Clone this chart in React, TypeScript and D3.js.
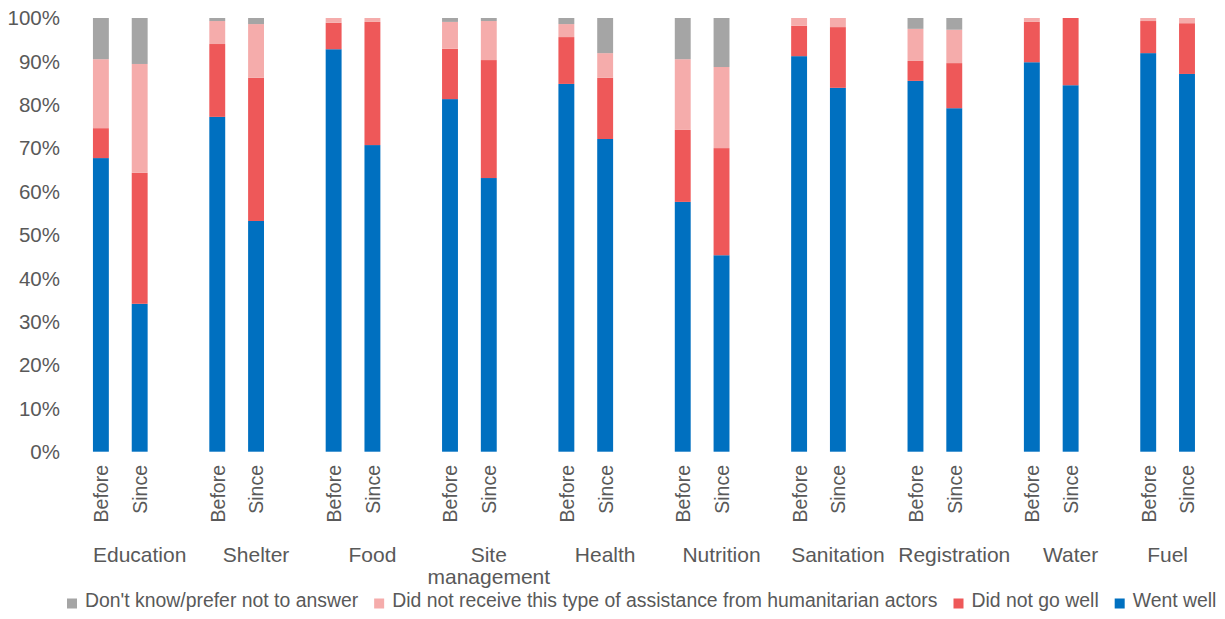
import React, { useEffect, useRef } from "react";
import * as d3 from "d3";

const categories = ["Education", "Shelter", "Food", "Site management", "Health", "Nutrition", "Sanitation", "Registration", "Water", "Fuel"];
const periods = ["Before", "Since"];
const seriesNames = ["Went well", "Did not go well", "Did not receive this type of assistance from humanitarian actors", "Don't know/prefer not to answer"];
const seriesColors = ["#0070C0", "#EE5859", "#F5ACAB", "#A5A5A5"];
const legendOrder = [3, 2, 1, 0];
const yTicks = [0, 10, 20, 30, 40, 50, 60, 70, 80, 90, 100];

// values per bar: [category][period] (Before, Since)
const wentWell = [[67.7, 34.1], [77.2, 53.2], [92.8, 70.7], [81.3, 63.1], [84.8, 72.1], [57.6, 45.3], [91.2, 83.9], [85.5, 79.2], [89.8, 84.5], [91.9, 87.1]];
const didNotGoWell = [[6.9, 30.2], [16.8, 33.0], [6.1, 28.4], [11.6, 27.2], [10.8, 14.1], [16.6, 24.7], [7.0, 14.0], [4.6, 10.4], [9.3, 15.5], [7.4, 11.7]];
const didNotReceive = [[15.9, 25.1], [5.3, 12.4], [1.1, 0.9], [6.2, 9.0], [3.0, 5.7], [16.3, 18.7], [1.8, 2.1], [7.4, 7.7], [0.9, 0], [0.7, 1.2]];
const dontKnow = [[9.5, 10.6], [0.7, 1.4], [0, 0], [0.9, 0.7], [1.4, 8.1], [9.5, 11.3], [0, 0], [2.5, 2.7], [0, 0], [0, 0]];

export default function App() {
  const ref = useRef<SVGSVGElement>(null);

  useEffect(() => {
    const svg = d3.select(ref.current);
    svg.selectAll("*").remove();
    const font = "'Liberation Sans', Arial, sans-serif";
    const textColor = "#595959";

    const slots: string[] = [];
    categories.forEach((c, i) => {
      periods.forEach((p) => slots.push(`${c}|${p}`));
      if (i < categories.length - 1) slots.push(`${c}|blank`);
    });

    const x = d3.scaleBand<string>().domain(slots).range([81.5, 1206.4]).paddingInner(0.59).paddingOuter(0.295);
    const y = d3.scaleLinear().domain([0, 100]).range([451.7, 18]);

    const rows = categories.flatMap((c, ci) =>
      periods.map((p, pi) => ({
        key: `${c}|${p}`,
        period: p,
        s0: wentWell[ci][pi],
        s1: didNotGoWell[ci][pi],
        s2: didNotReceive[ci][pi],
        s3: dontKnow[ci][pi],
      }))
    );
    const stack = d3.stack<any>().keys(["s0", "s1", "s2", "s3"]);
    const stacked = stack(rows);

    const g = svg.append("g");
    stacked.forEach((layer, li) => {
      g.selectAll(null)
        .data(layer)
        .enter()
        .append("rect")
        .attr("x", (d: any) => x(d.data.key)!)
        .attr("width", x.bandwidth())
        .attr("y", (d: any) => y(d[1]))
        .attr("height", (d: any) => Math.max(0, y(d[0]) - y(d[1])))
        .attr("fill", seriesColors[li]);
    });

    svg.append("g")
      .selectAll("text")
      .data(yTicks)
      .enter()
      .append("text")
      .attr("x", 60)
      .attr("y", (d) => y(d))
      .attr("dy", "0.36em")
      .attr("text-anchor", "end")
      .attr("font-family", font)
      .attr("font-size", 20.5)
      .attr("fill", textColor)
      .text((d) => `${d}%`);

    svg.append("g")
      .selectAll("text")
      .data(rows)
      .enter()
      .append("text")
      .attr("transform", (d) => `translate(${x(d.key)! + x.bandwidth() / 2},465) rotate(-90)`)
      .attr("dy", "0.38em")
      .attr("text-anchor", "end")
      .attr("font-family", font)
      .attr("font-size", 19.5)
      .attr("fill", textColor)
      .text((d) => d.period);

    categories.forEach((c) => {
      const keys = slots.filter((s) => s.startsWith(c + "|"));
      const centers = keys.map((k) => x(k)! + x.bandwidth() / 2);
      const cx = d3.mean(centers)!;
      const words = c === "Site management" ? ["Site", "management"] : [c];
      const t = svg.append("text")
        .attr("x", cx)
        .attr("y", 562)
        .attr("text-anchor", "middle")
        .attr("font-family", font)
        .attr("font-size", 21)
        .attr("fill", textColor);
      words.forEach((w, wi) => {
        t.append("tspan").attr("x", cx).attr("dy", wi === 0 ? 0 : 22).text(w);
      });
    });

    const lg = svg.append("g");
    let lx = 67;
    legendOrder.forEach((si) => {
      lg.append("rect").attr("x", lx).attr("y", 598.5).attr("width", 10).attr("height", 10).attr("fill", seriesColors[si]);
      const t = lg.append("text")
        .attr("x", lx + 18)
        .attr("y", 607)
        .attr("font-family", font)
        .attr("font-size", 19.4)
        .attr("fill", textColor)
        .text(seriesNames[si]);
      const w = (t.node() as SVGTextElement).getComputedTextLength();
      lx = lx + 18 + w + 16;
    });
  }, []);

  return (
    <div style={{ position: "absolute", left: 0, top: 0 }}>
      <svg ref={ref} width={1225} height={619} style={{ display: "block", background: "#fff" }} />
    </div>
  );
}
